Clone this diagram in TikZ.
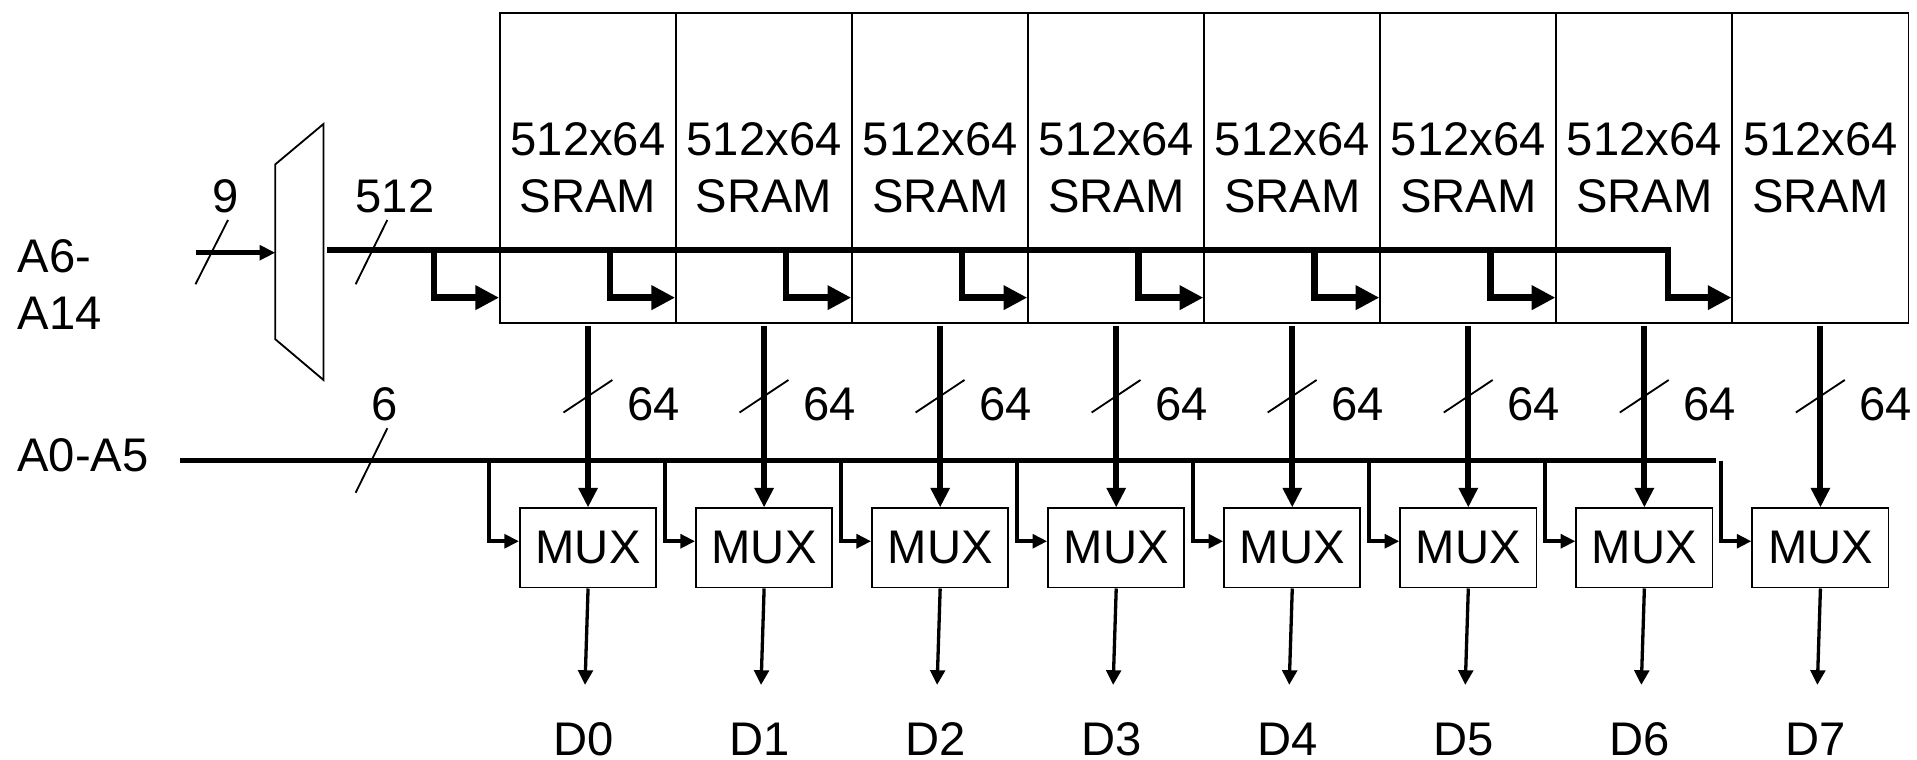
\documentclass[tikz,border=0pt]{standalone}
\usepackage{fontspec}
\setmainfont{Liberation Sans}
\usepackage{tikz}
\usetikzlibrary{arrows.meta, calc}

\begin{document}
\begin{tikzpicture}[x=0.5pt, y=-0.5pt, >={Triangle[length=6pt, width=6pt]},
  lbl/.style={inner sep=0pt, font=\fontsize{19.3}{23.3}\selectfont},
  srambox/.style={lbl, draw, line width=0.75pt, minimum width=72pt, minimum height=126.8pt, align=center},
  muxbox/.style={lbl, draw, line width=0.75pt, minimum width=55.7pt, minimum height=32.4pt},
  bus/.style={line width=2.7pt, -{Triangle[length=9.7pt, width=9.5pt]}},
  sel/.style={line width=1.7pt, -{Triangle[length=6pt, width=5.6pt]}},
  tick/.style={line width=0.75pt}]
  \useasboundingbox (0,0) rectangle (1568,621);
  % row decoder
  \coordinate (decin) at (225.2,206.7);
  \coordinate (decout) at (267.5,204.5);
  \draw[line width=0.75pt] (225.2,134.4) -- (264.6,101.4) -- (264.6,310.8) -- (225.2,277.5) -- cycle;
  \node[lbl, anchor=west, align=left] (ahi) at (14,233) {A6-\\A14};
  \coordinate (ain) at (160,206.7);
  \draw[line width=1.9pt, -{Triangle[length=6.4pt, width=5.9pt]}] (ain) -- (decin);
  \draw[tick] (159.9,232.5) -- (186.5,179.9);
  \node[lbl] (w9) at (184.3,160.5) {9};
  \draw[tick] (290.9,232.5) -- (316.8,179.9);
  \node[lbl] (w512) at (323,160.5) {512};
  % column address bus
  \node[lbl, anchor=west] (alo) at (13.9,372.5) {A0-A5};
  \coordinate (c0) at (147.1,376.7);
  \coordinate (cend) at (1403.6,376.7);
  \draw[line width=2.35pt] (c0) -- (cend);
  \draw[tick] (290.9,403) -- (316.8,350.3);
  \node[lbl] (w6) at (314.4,331) {6};
  % SRAM banks and column muxes
  \foreach \i in {0,...,7} {
    \pgfmathsetmacro\xc{481+144*\i}
    \node[srambox] (sram\i) at (\xc,137.2) {512x64\\SRAM};
    \node[muxbox] (mux\i) at (\xc,448.2) {MUX};
    \coordinate (seltap\i) at ({\xc-81},376.7);
    \coordinate (dtip\i) at ({\xc-2.5},560.2);
    \node[lbl] (d\i) at ({\xc-4},604.5) {D\i};
    \draw[line width=2.45pt, -{Triangle[length=8pt, width=7.5pt]}, shorten <=0.8pt] (sram\i.south) -- (mux\i.north);
    \draw[tick] ({\xc-20.1},337.4) -- ({\xc+19.9},310.8);
    \node[lbl] (w64\i) at ({\xc+53.5},331) {64};
    \draw[sel] (seltap\i) |- ([yshift=2.75pt]mux\i.west);
    \draw[line width=1.35pt, ->] (mux\i.south) -- (dtip\i);
  }
  % word line bus into the banks
  \foreach \i in {0,...,6} {
    \pgfmathsetmacro\xc{481+144*\i}
    \coordinate (tap\i) at ({\xc-126},204.5);
    \draw[bus] (tap\i) |- ([yshift=10.65pt]sram\i.south west);
  }
  \coordinate (bend) at (1364.4,204.5);
  \draw[bus] (decout) -- (bend) |- ([yshift=10.65pt]sram7.south west);
\end{tikzpicture}
\end{document}
